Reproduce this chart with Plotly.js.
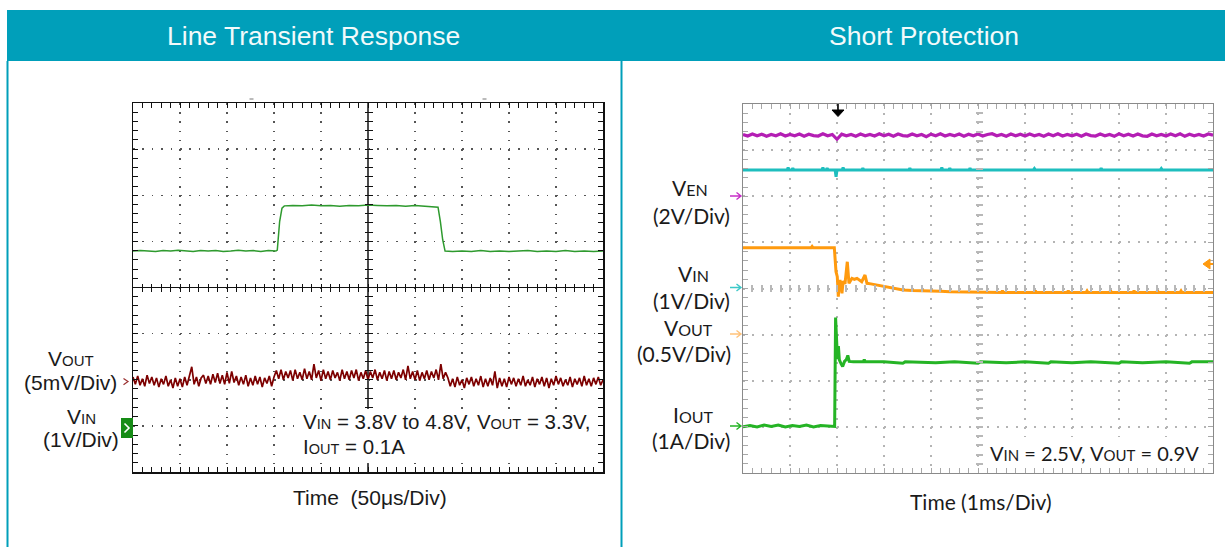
<!DOCTYPE html>
<html>
<head>
<meta charset="utf-8">
<script src="https://cdn.plot.ly/plotly-3.0.1.min.js"></script>
<style>html,body{margin:0;padding:0;background:#fff;}#chart{width:1225px;height:547px;}</style>
</head>
<body>
<div id="chart"></div>
<script>
// ---------------- DATA ----------------
// Left scope: Line transient (time in microseconds)
const leftVinT = [0, 8, 16, 24, 32, 40, 48, 56, 64, 72,
  80, 88, 96, 104, 112, 120, 128, 136, 144, 152,
  153.5, 156, 158.5, 161,
  170, 180, 190, 200, 210, 220, 230, 240, 250, 260, 270, 280, 290, 300, 310, 320,
  324.5, 327, 329.5, 332,
  340, 350, 360, 370, 380, 390, 400, 410, 420, 430, 440, 450, 460, 470, 480, 490, 500];
const leftVinV = [3.81, 3.82, 3.81, 3.80, 3.82, 3.81, 3.83, 3.81, 3.80, 3.82,
  3.81, 3.82, 3.80, 3.81, 3.83, 3.81, 3.82, 3.80, 3.82, 3.81,
  3.83, 4.45, 4.74, 4.79,
  4.80, 4.79, 4.81, 4.79, 4.80, 4.78, 4.80, 4.79, 4.81, 4.80, 4.79, 4.80, 4.78, 4.80, 4.79, 4.78,
  4.76, 4.45, 4.05, 3.81,
  3.80, 3.81, 3.80, 3.82, 3.80, 3.81, 3.80, 3.81, 3.82, 3.80, 3.81, 3.80, 3.82, 3.80, 3.81, 3.80, 3.81];
// VOUT ripple (mV, AC coupled), one sample every 2.5 us
const leftSampleUs = 2.5;
const leftVoutRipple = [
  0.5, -0.3, 0.6, -0.4, 0.3, -0.5, 0.7, -0.2, 0.5, -0.4,
  0.4, -0.6, 0.3, -0.3, 0.6, -0.5, 0.2, -0.7, 0.4, -0.5,
  0.3, -0.6, 0.5, -0.4, 0.6, 1.6, -0.3, 0.5, -0.5, 0.4,
  0.7, -0.2, 0.6, -0.3, 0.8, -0.1, 0.9, -0.2, 0.7, -0.3,
  1.0, -0.2, 1.1, -0.1, 0.6, -0.4, 0.5, -0.3, 0.7, -0.5,
  0.4, -0.4, 0.6, -0.3, 0.5, -0.6, 0.4, -0.2, 0.6, -0.5,
  0.5,
  1.2, 0.3, 1.3, 0.2, 1.1, 0.4, 1.2, 0.1, 1.3, 0.3,
  1.0, 0.2, 1.4, 0.3, 1.1, 0.2, 1.9, 0.4, 1.2, 0.1,
  1.3, 0.3, 1.1, 0.2, 1.2, 0.4, 1.0, 0.1, 1.3, 0.3,
  1.1, 0.2, 1.2, 0.4, 1.3, 0.1, 1.0, 0.3, 1.2, 0.2,
  1.1, 0.4, 1.3, 0.2, 1.0, 0.3, 1.2, 0.1, 1.1, 0.3,
  1.2, 0.2, 1.0, 0.4, 1.3, 0.2, 1.7, 0.3, 1.1, 0.2,
  1.2, 0.1, 1.0, 0.3, 1.2, 0.2, 1.1, 0.4, 1.3, 0.2,
  1.9, 0.3, 1.0,
  0.4, -0.5, 0.3, -0.6, 0.5, -0.4, 0.2, -0.7, 0.4, -0.3,
  0.5, -0.5, 0.3, -0.4, 0.6, -0.6, 0.3, -0.5, 0.4, -0.4,
  1.1, -0.7, 0.4, -0.5, 0.3, -0.6, 0.5, -0.3, 0.4, -0.5,
  0.3, -0.4, 0.6, -0.5, 0.2, -0.4, 0.5, -0.6, 0.3, -0.3,
  0.5, -0.5, 0.4, -0.7, 0.3, -0.4, 0.6, -0.3, 0.4, -0.5,
  0.2, -0.4, 0.5, -0.6, 0.3, -0.3, 0.4, -0.5, 0.6, -0.4,
  0.3, -0.5, 0.4, -0.3, 0.5, -0.4, 0.2];

// Right scope: Short protection (time in ms)
const rightSampleMs = 0.1;
const rVenV = [2.68, 2.61, 2.70, 2.62, 2.69, 2.60, 2.68, 2.62, 2.71, 2.61,
  2.68, 2.62, 2.70, 2.60, 2.69, 2.63, 2.61, 2.71, 2.62, 2.68,
  2.47, 2.69, 2.62, 2.68, 2.60, 2.70, 2.62, 2.68, 2.61, 2.71,
  2.62, 2.69, 2.60, 2.70, 2.63, 2.61, 2.70, 2.62, 2.68, 2.58,
  2.69, 2.62, 2.71, 2.61, 2.68, 2.62, 2.70, 2.60, 2.69, 2.62,
  2.70, 2.61, 2.68, 2.71, 2.62, 2.68, 2.60, 2.70, 2.62, 2.69,
  2.61, 2.70, 2.62, 2.68, 2.60, 2.70, 2.62, 2.71, 2.61, 2.68,
  2.62, 2.69, 2.60, 2.70, 2.63, 2.61, 2.70, 2.62, 2.68, 2.60,
  2.71, 2.62, 2.69, 2.61, 2.70, 2.62, 2.60, 2.70, 2.62, 2.68,
  2.61, 2.70, 2.62, 2.71, 2.60, 2.69, 2.62, 2.68, 2.61, 2.70,
  2.65];
const rVinT = [0,
  0.94, 0.96, 0.98, 1.04, 1.06, 1.08, 1.68, 1.70, 1.72,
  1.77, 1.79, 1.81, 1.96, 1.98, 2.00, 2.11, 2.13, 2.15,
  2.53, 2.55, 2.57, 3.53, 3.55, 3.57, 4.21, 4.23, 4.25,
  4.38, 4.40, 4.42, 4.81, 4.83, 4.85, 6.18, 6.20, 6.22,
  7.60, 7.62, 7.64, 8.88, 8.90, 8.92,
  10];
const rVinV = [2.57,
  2.57, 2.62, 2.57, 2.57, 2.61, 2.57, 2.57, 2.62, 2.57,
  2.57, 2.61, 2.57, 2.57, 2.42, 2.57, 2.57, 2.62, 2.57,
  2.57, 2.61, 2.57, 2.57, 2.61, 2.57, 2.57, 2.62, 2.57,
  2.57, 2.61, 2.57, 2.57, 2.61, 2.57, 2.57, 2.60, 2.57,
  2.57, 2.61, 2.57, 2.57, 2.60, 2.57,
  2.57];
const rVoutT = [0, 1.45, 1.47, 1.49, 1.943, 1.979, 2.006, 2.028, 2.045, 2.064,
  2.085, 2.106, 2.13, 2.17, 2.219, 2.255, 2.319, 2.37, 2.426, 2.47,
  2.526, 2.596, 2.638, 2.72, 2.845, 2.95, 3.057, 3.234, 3.404, 3.6,
  3.979, 4.2, 4.404, 4.7, 5.04, 5.5, 5.52, 5.54, 6.2, 6.22,
  6.24, 6.9, 6.92, 6.94, 7.3, 7.32, 7.34, 7.8, 7.82, 7.84,
  8.3, 8.32, 8.34, 8.8, 8.82, 8.84, 9.3, 9.32, 9.34, 10];
const rVoutV = [0.942, 0.942, 0.955, 0.942, 0.942, 0.682, 0.628, 0.411, 0.56, 0.592,
  0.52, 0.448, 0.58, 0.55, 0.79, 0.556, 0.61, 0.60, 0.61, 0.59,
  0.573, 0.646, 0.556, 0.55, 0.538, 0.53, 0.519, 0.502, 0.483, 0.478,
  0.476, 0.47, 0.465, 0.462, 0.458, 0.457, 0.476, 0.457, 0.457, 0.478,
  0.457, 0.457, 0.476, 0.457, 0.457, 0.474, 0.457, 0.457, 0.478, 0.457,
  0.457, 0.475, 0.457, 0.457, 0.477, 0.457, 0.457, 0.474, 0.457, 0.457];
const rIoutT = [0, 0.15, 0.30, 0.45, 0.60, 0.75, 0.90, 1.05, 1.20, 1.35,
  1.50, 1.65, 1.80, 1.95, 1.97, 1.99, 2.01, 2.03, 2.05, 2.09,
  2.12, 2.16, 2.20, 2.23, 2.26, 2.35, 2.56, 2.58, 2.60, 3.00,
  3.40, 3.45, 4.10, 4.50, 5.00, 5.05, 5.60, 6.00, 6.50, 6.55,
  7.00, 7.40, 8.00, 8.05, 8.50, 9.00, 9.50, 9.55, 10];
const rIoutV = [0.00, 0.03, 0.00, 0.04, 0.01, 0.04, 0.00, 0.03, 0.01, 0.04,
  0.00, 0.03, 0.02, 0.01, 2.37, 1.97, 1.47, 1.75, 1.45, 1.36,
  1.31, 1.42, 1.46, 1.55, 1.42, 1.41, 1.41, 1.46, 1.41, 1.41,
  1.38, 1.41, 1.39, 1.41, 1.38, 1.41, 1.39, 1.41, 1.38, 1.41,
  1.39, 1.41, 1.38, 1.41, 1.39, 1.41, 1.38, 1.41, 1.41];

// channel settings: volts(or A)/div and ground offset (div)
const chLeft = {vin: {scale: 1, offset: -3.02}, vout: {scale: 5, offset: -2.04}};
const chRight = {ven: {scale: 2, offset: 2}, vin: {scale: 1, offset: 0}, vout: {scale: 0.5, offset: -1}, iout: {scale: 1, offset: -3}};

// ---------------- HELPERS ----------------
const W = 1225, H = 547;
const X = p => p / W;
const Y = p => 1 - p / H;
const toDiv = (arr, ch) => arr.map(v => v / ch.scale + ch.offset);
const P = pts => pts.map(pt => (pt === 'Z' ? 'Z' : ((pt[0] === 'M' ? 'M' : 'L') + X(pt[1]) + ',' + Y(pt[2])))).join(' ');

const FONT_L = 'Liberation Sans, Arial, sans-serif';
const FONT_R = 'Lato, Carlito, sans-serif';
const TEAL = '#009fba';

// ---------------- TRACES ----------------
const traces = [
  {x: leftVinT, y: toDiv(leftVinV, chLeft.vin), xaxis: 'x', yaxis: 'y', mode: 'lines',
   line: {color: '#2e9a2e', width: 1.5}, hoverinfo: 'skip'},
  {x: leftVoutRipple.map((_, i) => i * leftSampleUs), y: toDiv(leftVoutRipple, chLeft.vout), xaxis: 'x', yaxis: 'y', mode: 'lines',
   line: {color: '#7d0000', width: 1.7}, hoverinfo: 'skip'},
  {x: rVenV.map((_, i) => i * rightSampleMs), y: toDiv(rVenV, chRight.ven), xaxis: 'x2', yaxis: 'y2', mode: 'lines',
   line: {color: '#b41eb4', width: 3.2}, hoverinfo: 'skip'},
  {x: rVinT, y: toDiv(rVinV, chRight.vin), xaxis: 'x2', yaxis: 'y2', mode: 'lines',
   line: {color: '#1ebebe', width: 3}, hoverinfo: 'skip'},
  {x: rVoutT, y: toDiv(rVoutV, chRight.vout), xaxis: 'x2', yaxis: 'y2', mode: 'lines',
   line: {color: '#ff9a0e', width: 3}, hoverinfo: 'skip'},
  {x: rIoutT, y: toDiv(rIoutV, chRight.iout), xaxis: 'x2', yaxis: 'y2', mode: 'lines',
   line: {color: '#25b425', width: 3}, hoverinfo: 'skip'},
  // carriers for the centre tick axes
  {x: [null], y: [null], xaxis: 'x3', yaxis: 'y', mode: 'lines', hoverinfo: 'skip'},
  {x: [null], y: [null], xaxis: 'x', yaxis: 'y3', mode: 'lines', hoverinfo: 'skip'},
  {x: [null], y: [null], xaxis: 'x4', yaxis: 'y2', mode: 'lines', hoverinfo: 'skip'},
  {x: [null], y: [null], xaxis: 'x2', yaxis: 'y4', mode: 'lines', hoverinfo: 'skip'}
];

// ---------------- AXES ----------------
const hidden = {showticklabels: false, zeroline: false, fixedrange: true};
const leftFrame = {showline: true, linecolor: '#111', linewidth: 1.5, mirror: 'ticks', ticks: 'inside', ticklen: 5,
  tickcolor: '#111', tickwidth: 1, showgrid: true, gridcolor: '#555', gridwidth: 1.5};
const rightFrame = {showline: true, linecolor: '#8a8a8a', linewidth: 1.2, mirror: 'ticks', ticks: 'inside', ticklen: 5,
  tickcolor: '#a8a8a8', tickwidth: 1, showgrid: true, gridcolor: '#b4b4b4', gridwidth: 2};

const layout = {
  width: W, height: H, margin: {l: 0, r: 0, t: 0, b: 0},
  paper_bgcolor: '#ffffff', plot_bgcolor: '#ffffff', showlegend: false,
  xaxis: Object.assign({}, hidden, leftFrame, {domain: [X(133), X(603)], range: [0, 500], anchor: 'y', dtick: 50, tick0: 0,
    griddash: '1.5px,7.725px',
    minor: {dtick: 10, tick0: 0, ticks: 'inside', ticklen: 5, tickcolor: '#111', tickwidth: 1, showgrid: false}}),
  yaxis: Object.assign({}, hidden, leftFrame, {domain: [Y(472), Y(103)], range: [-4, 4], anchor: 'x', dtick: 1, tick0: 0,
    griddash: '1.5px,7.9px', zeroline: true, zerolinecolor: '#111', zerolinewidth: 1.5,
    minor: {dtick: 0.2, tick0: 0, ticks: 'inside', ticklen: 5, tickcolor: '#111', tickwidth: 1, showgrid: false}}),
  xaxis3: Object.assign({}, hidden, {overlaying: 'x', anchor: 'free', position: Y(291.5), side: 'bottom', range: [0, 500],
    showline: false, showgrid: false, ticks: 'inside', ticklen: 8, tickcolor: '#111', tickwidth: 1, dtick: 50, tick0: 0,
    minor: {dtick: 10, tick0: 0, ticks: 'inside', ticklen: 8, tickcolor: '#111', tickwidth: 1, showgrid: false}}),
  yaxis3: Object.assign({}, hidden, {overlaying: 'y', anchor: 'free', position: X(364), side: 'left', range: [-4, 4],
    showline: false, showgrid: false, ticks: 'inside', ticklen: 8, tickcolor: '#111', tickwidth: 1, dtick: 1, tick0: 0,
    minor: {dtick: 0.2, tick0: 0, ticks: 'inside', ticklen: 8, tickcolor: '#111', tickwidth: 1, showgrid: false}}),

  xaxis2: Object.assign({}, hidden, rightFrame, {domain: [X(743), X(1213)], range: [0, 10], anchor: 'y2', dtick: 1, tick0: 0,
    griddash: '2px,7.225px',
    minor: {dtick: 0.2, tick0: 0, ticks: 'inside', ticklen: 5, tickcolor: '#a8a8a8', tickwidth: 1, showgrid: false}}),
  yaxis2: Object.assign({}, hidden, rightFrame, {domain: [Y(473), Y(104)], range: [-4, 4], anchor: 'x2', dtick: 1, tick0: 0,
    griddash: '2px,7.4px',
    minor: {dtick: 0.2, tick0: 0, ticks: 'inside', ticklen: 5, tickcolor: '#a8a8a8', tickwidth: 1, showgrid: false}}),
  xaxis4: Object.assign({}, hidden, {overlaying: 'x2', anchor: 'free', position: Y(292), side: 'bottom', range: [0, 10],
    showline: false, showgrid: false, ticks: 'inside', ticklen: 7, tickcolor: '#b8b8b8', tickwidth: 2, dtick: 1, tick0: 0,
    minor: {dtick: 0.2, tick0: 0, ticks: 'inside', ticklen: 7, tickcolor: '#b8b8b8', tickwidth: 2, showgrid: false}}),
  yaxis4: Object.assign({}, hidden, {overlaying: 'y2', anchor: 'free', position: X(974.5), side: 'left', range: [-4, 4],
    showline: false, showgrid: false, ticks: 'inside', ticklen: 7, tickcolor: '#b8b8b8', tickwidth: 2, dtick: 1, tick0: 0,
    minor: {dtick: 0.2, tick0: 0, ticks: 'inside', ticklen: 7, tickcolor: '#b8b8b8', tickwidth: 2, showgrid: false}}),

  shapes: [
    // header bar and panel borders
    {type: 'rect', xref: 'paper', yref: 'paper', x0: X(7), x1: 1, y0: Y(61), y1: Y(10), fillcolor: TEAL, line: {width: 0}, layer: 'below'},
    {type: 'line', xref: 'paper', yref: 'paper', x0: X(7.5), x1: X(7.5), y0: Y(61), y1: 0, line: {color: TEAL, width: 2}},
    {type: 'line', xref: 'paper', yref: 'paper', x0: X(621.5), x1: X(621.5), y0: Y(61), y1: 0, line: {color: TEAL, width: 2}},
    // left scope vertical centre line
    {type: 'line', xref: 'x', yref: 'y domain', x0: 250, x1: 250, y0: 0, y1: 1, line: {color: '#111', width: 1.5}, layer: 'below'},
    // small marks above the left scope
    {type: 'line', xref: 'paper', yref: 'paper', x0: X(249.5), x1: X(253.5), y0: Y(99), y1: Y(99), line: {color: '#777', width: 1}},
    {type: 'line', xref: 'paper', yref: 'paper', x0: X(482.5), x1: X(486.5), y0: Y(99), y1: Y(99), line: {color: '#777', width: 1}},
    // text backgrounds
    {type: 'rect', xref: 'paper', yref: 'paper', x0: X(300), x1: X(596), y0: Y(463), y1: Y(409), fillcolor: '#ffffff', line: {width: 0}, layer: 'above'},
    {type: 'rect', xref: 'paper', yref: 'paper', x0: X(985), x1: X(1207), y0: Y(466), y1: Y(437), fillcolor: '#ffffff', line: {width: 0}, layer: 'above'},
    // left channel markers
    {type: 'rect', xref: 'paper', yref: 'paper', x0: X(121), x1: X(133), y0: Y(438), y1: Y(418), fillcolor: '#168c16', line: {width: 0}, layer: 'above'},
    {type: 'path', xref: 'paper', yref: 'paper', path: P([['M', 124.5, 423.5], ['L', 129, 428], ['L', 124.5, 432.5]]), line: {color: '#ffffff', width: 1.6}, layer: 'above'},
    {type: 'path', xref: 'paper', yref: 'paper', path: P([['M', 123.5, 378.5], ['L', 128, 381.6], ['L', 123.5, 384.7]]), line: {color: '#9a3030', width: 1.2}, layer: 'above'},
    // right channel markers (arrows)
    {type: 'path', xref: 'paper', yref: 'paper', path: P([['M', 730, 196], ['L', 741, 196], ['M', 736.5, 192.5], ['L', 741, 196], ['L', 736.5, 199.5]]), line: {color: '#c72fc7', width: 1.4}},
    {type: 'path', xref: 'paper', yref: 'paper', path: P([['M', 730, 287.5], ['L', 741, 287.5], ['M', 736.5, 284], ['L', 741, 287.5], ['L', 736.5, 291]]), line: {color: '#3cc8c8', width: 1.4}},
    {type: 'path', xref: 'paper', yref: 'paper', path: P([['M', 730, 334], ['L', 741, 334], ['M', 736.5, 330.5], ['L', 741, 334], ['L', 736.5, 337.5]]), line: {color: '#ffc27a', width: 1.4}},
    {type: 'path', xref: 'paper', yref: 'paper', path: P([['M', 730, 426], ['L', 741, 426], ['M', 736.5, 422.5], ['L', 741, 426], ['L', 736.5, 429.5]]), line: {color: '#25b425', width: 1.4}},
    // trigger position arrow
    {type: 'line', xref: 'paper', yref: 'paper', x0: X(838), x1: X(838), y0: Y(104), y1: Y(111), line: {color: '#000', width: 1.6}, layer: 'above'},
    {type: 'path', xref: 'paper', yref: 'paper', path: P([['M', 832, 110], ['L', 844, 110], ['L', 838, 116.5], 'Z']), fillcolor: '#000', line: {color: '#000', width: 1}, layer: 'above'},
    // trigger level arrow
    {type: 'path', xref: 'paper', yref: 'paper', path: P([['M', 1203, 264], ['L', 1210, 259], ['L', 1210, 269], 'Z']), fillcolor: '#ff9a0e', line: {color: '#ff9a0e', width: 1}, layer: 'above'},
    {type: 'line', xref: 'paper', yref: 'paper', x0: X(1209), x1: X(1213), y0: Y(264), y1: Y(264), line: {color: '#ff9a0e', width: 2}, layer: 'above'}
  ],
  annotations: []
};

function ann(text, x, y, size, family, xanchor, color) {
  return {text: text, x: X(x), y: Y(y), xref: 'paper', yref: 'paper', showarrow: false,
    xanchor: xanchor || 'center', yanchor: 'middle', font: {size: size, family: family, color: color || '#1a1a1a'}};
}
const subL = s => '<span style="font-size:15px">' + s + '</span>';
const subL2 = s => '<span style="font-size:14.5px">' + s + '</span>';
const subR = s => '<span style="font-size:16px">' + s + '</span>';
const subR2 = s => '<span style="font-size:15px">' + s + '</span>';

layout.annotations.push(
  ann('Line Transient Response', 313.5, 36, 26.5, FONT_L, 'center', '#f2fafb'),
  ann('Short Protection', 923.5, 36, 26.5, FONT_L, 'center', '#f2fafb'),
  // left panel
  ann('V' + subL('OUT'), 71, 358, 21, FONT_L),
  ann('(5mV/Div)', 70.5, 382, 21, FONT_L),
  ann('V' + subL('IN'), 81, 416.5, 21, FONT_L),
  ann('(1V/Div)', 80.5, 439.5, 21, FONT_L),
  ann('V' + subL2('IN') + ' = 3.8V to 4.8V, V' + subL2('OUT') + ' = 3.3V,', 301, 421, 20.5, FONT_L, 'left'),
  ann('I' + subL2('OUT') + ' = 0.1A', 301, 446, 20.5, FONT_L, 'left'),
  ann('Time\u00a0\u00a0(50\u03bcs/Div)', 370, 497, 21, FONT_L),
  // right panel
  ann('V' + subR('EN'), 689.5, 188, 21, FONT_R),
  ann('(2V/Div)', 732, 216, 21, FONT_R, 'right'),
  ann('V' + subR('IN'), 693.5, 273, 21, FONT_R),
  ann('(1V/Div)', 732, 300, 21, FONT_R, 'right'),
  ann('V' + subR('OUT'), 688, 327, 21, FONT_R),
  ann('(0.5V/Div)', 733, 353, 21, FONT_R, 'right'),
  ann('I' + subR('OUT'), 693, 414, 21, FONT_R),
  ann('(1A/Div)', 732, 440, 21, FONT_R, 'right'),
  ann('Time (1ms/Div)', 981, 501, 21, FONT_R),
  ann('V' + subR2('IN') + ' = 2.5V, V' + subR2('OUT') + ' = 0.9V', 1201, 452.5, 20, FONT_R, 'right')
);

Plotly.newPlot('chart', traces, layout, {staticPlot: true, displayModeBar: false});
</script>
</body>
</html>
